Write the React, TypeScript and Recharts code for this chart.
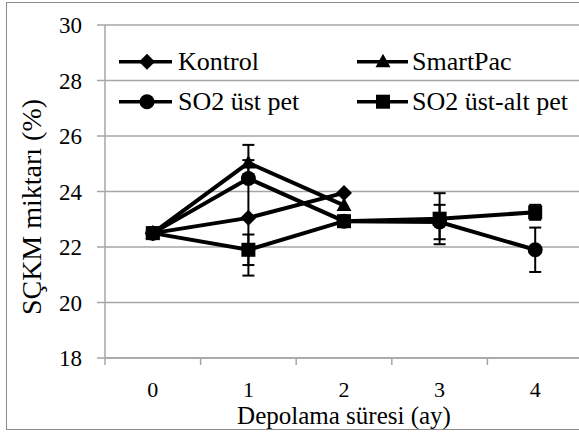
import React from 'react';
import { LineChart, Line, XAxis, YAxis, CartesianGrid, ErrorBar, Legend } from 'recharts';

// ---- data ----
const months = [0, 1, 2, 3, 4];
const kontrol = [22.5, 23.05, 23.95, null, null];
const kontrolErr = [null, 2.08, null, null, null];
const smartPac = [22.5, 25.03, 23.5, null, null];
const smartPacErr = [null, 0.65, null, null, null];
const so2Ust = [22.5, 24.47, 22.93, 22.9, 21.9];
const so2UstErr = [null, 0.15, null, 0.62, 0.8];
const so2UstAlt = [22.5, 21.9, 22.93, 23.02, 23.25];
const so2UstAltErr = [null, 0.55, null, 0.92, 0.27];

const seriesNames = ['Kontrol', 'SmartPac', 'SO2 üst pet', 'SO2 üst-alt pet'];
const seriesKeys = ['kontrol', 'smartPac', 'so2Ust', 'so2UstAlt'];
const seriesShapes = ['diamond', 'triangle', 'circle', 'square'];
const yTicks = [18, 20, 22, 24, 26, 28, 30];
const xTicks = [-0.5, 0, 0.5, 1, 1.5, 2, 2.5, 3, 3.5, 4, 4.5];
const xTitle = 'Depolama süresi (ay)';
const yTitle = 'SÇKM miktarı (%)';

const data = months.map((m, i) => ({
  month: m,
  kontrol: kontrol[i],
  kontrolErr: kontrolErr[i],
  smartPac: smartPac[i],
  smartPacErr: smartPacErr[i],
  so2Ust: so2Ust[i],
  so2UstErr: so2UstErr[i],
  so2UstAlt: so2UstAlt[i],
  so2UstAltErr: so2UstAltErr[i],
}));

const FONT = 'Liberation Serif, Tinos, Times New Roman, Times, DejaVu Serif, serif';
const GRID = '#a6a6a6';

function Shape({ shape, cx, cy }: { shape: string; cx: number; cy: number }) {
  if (shape === 'diamond') {
    return <polygon points={`${cx},${cy - 8} ${cx + 8},${cy} ${cx},${cy + 8} ${cx - 8},${cy}`} fill="#000" />;
  }
  if (shape === 'triangle') {
    return <polygon points={`${cx},${cy - 8} ${cx + 7.5},${cy + 5.5} ${cx - 7.5},${cy + 5.5}`} fill="#000" />;
  }
  if (shape === 'circle') {
    return <circle cx={cx} cy={cy} r={7.5} fill="#000" />;
  }
  return <rect x={cx - 7} y={cy - 7} width={14} height={14} fill="#000" />;
}

const makeDot = (shape: string) => (p: any) => {
  const k = `${shape}-${p.index}`;
  if (p.cx == null || p.cy == null || p.value == null) return <g key={k} />;
  return (
    <g key={k}>
      <Shape shape={shape} cx={p.cx} cy={p.cy} />
    </g>
  );
};

const XTick = (props: any) => {
  const { x, y, payload } = props;
  const v = payload.value;
  if (Math.abs(v - Math.round(v)) > 0.01) {
    return <line x1={x} x2={x} y1={y} y2={y + 7} stroke={GRID} strokeWidth={1.5} />;
  }
  return (
    <text x={x} y={y + 39} textAnchor="middle" fontSize={22} style={{ fontFamily: FONT }} fill="#000">
      {v}
    </text>
  );
};

const LegendContent = () => {
  const cols = [
    { lx1: 14, lx2: 67, mx: 42, tx: 73 },
    { lx1: 252, lx2: 303, mx: 278, tx: 307 },
  ];
  const rows = [21.7, 61.7];
  return (
    <svg width={470} height={90} style={{ display: 'block', overflow: 'visible' }}>
      {seriesNames.map((name, i) => {
        const c = cols[i % 2];
        const r = rows[Math.floor(i / 2)];
        return (
          <g key={name}>
            <line x1={c.lx1} x2={c.lx2} y1={r} y2={r} stroke="#000" strokeWidth={3.5} />
            <Shape shape={seriesShapes[i]} cx={c.mx} cy={r} />
            <text x={c.tx} y={r + 8.5} fontSize={26} style={{ fontFamily: FONT }} fill="#000">
              {name}
            </text>
          </g>
        );
      })}
    </svg>
  );
};

export default function App() {
  const errKeys = ['kontrolErr', 'smartPacErr', 'so2UstErr', 'so2UstAltErr'];
  return (
    <div
      style={{
        position: 'absolute',
        left: 0,
        top: 0,
        width: 579,
        height: 435,
        overflow: 'hidden',
        background: '#fff',
        fontFamily: FONT,
      }}
    >
      <div
        style={{
          position: 'absolute',
          left: 6,
          top: 2,
          width: 640,
          height: 428,
          border: '1.5px solid #8c8c8c',
          boxSizing: 'border-box',
        }}
      />
      <div style={{ position: 'absolute', left: 0, top: 0 }}>
        <LineChart
          width={600}
          height={435}
          data={data}
          margin={{ top: 25, right: 17, bottom: 0, left: 0 }}
        >
          <CartesianGrid horizontal vertical={false} stroke={GRID} strokeWidth={1.5} />
          <XAxis
            dataKey="month"
            type="number"
            domain={[-0.5, 4.5]}
            ticks={xTicks}
            interval={0}
            tickSize={0}
            tickMargin={0}
            tickLine={false}
            tick={<XTick />}
            height={77}
            axisLine={{ stroke: GRID, strokeWidth: 1.5 }}
            label={{
              content: (p: any) => {
                const vb = p.viewBox || { x: 105, width: 478 };
                return (
                  <text
                    x={vb.x + vb.width / 2}
                    y={424}
                    textAnchor="middle"
                    fontSize={25}
                    style={{ fontFamily: FONT }}
                    fill="#000"
                  >
                    {xTitle}
                  </text>
                );
              },
            }}
          />
          <YAxis
            type="number"
            domain={[18, 30]}
            ticks={yTicks}
            interval={0}
            width={105}
            tickSize={8}
            tickMargin={15}
            tickLine={{ stroke: GRID, strokeWidth: 1.5 }}
            axisLine={{ stroke: GRID, strokeWidth: 1.5 }}
            tick={{ fontSize: 23, fill: '#000', style: { fontFamily: FONT } }}
            label={{
              content: () => (
                <text
                  x={41}
                  y={207}
                  transform="rotate(-90, 41, 207)"
                  textAnchor="middle"
                  fontSize={28}
                  style={{ fontFamily: FONT }}
                  fill="#000"
                >
                  {yTitle}
                </text>
              ),
            }}
          />
          <Legend
            layout="horizontal"
            verticalAlign="middle"
            align="center"
            content={<LegendContent />}
            wrapperStyle={{ position: 'absolute', left: 105, top: 40, width: 470, height: 90 }}
          />
          {seriesKeys.map((k, i) => (
            <Line
              key={k}
              name={seriesNames[i]}
              dataKey={k}
              type="linear"
              stroke="#000"
              strokeWidth={4}
              dot={makeDot(seriesShapes[i])}
              activeDot={false}
              isAnimationActive={false}
              connectNulls={false}
            >
              <ErrorBar
                dataKey={errKeys[i]}
                direction="y"
                width={6}
                strokeWidth={2}
                stroke="#000"
                isAnimationActive={false}
              />
            </Line>
          ))}
        </LineChart>
      </div>
    </div>
  );
}
